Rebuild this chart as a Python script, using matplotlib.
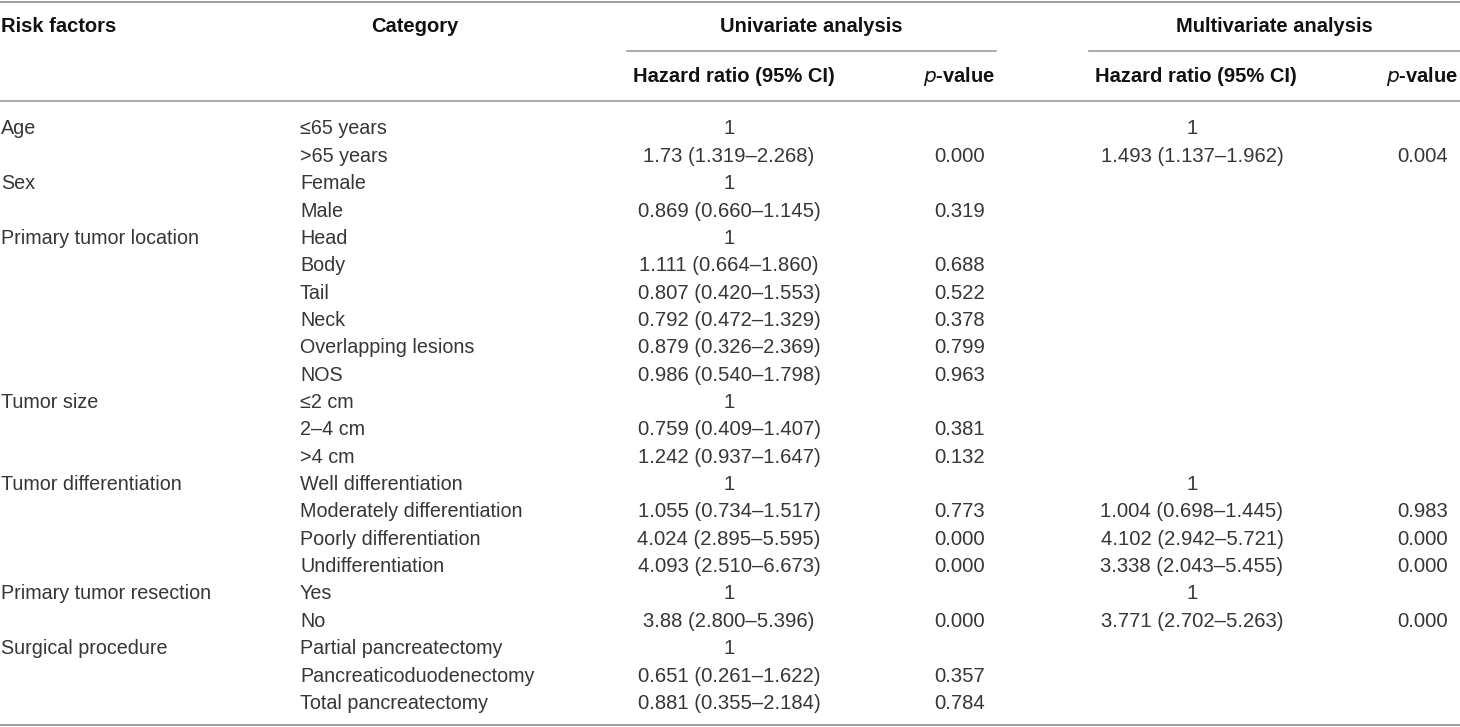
import matplotlib
matplotlib.use('Agg')
import matplotlib.pyplot as plt

# table content
RISK_FACTORS = ['Age', '', 'Sex', '', 'Primary tumor location', '', '', '', '', '',
                'Tumor size', '', '', 'Tumor differentiation', '', '', '',
                'Primary tumor resection', '', 'Surgical procedure', '', '']
CATEGORIES = ['≤65 years', '>65 years', 'Female', 'Male', 'Head', 'Body', 'Tail', 'Neck',
              'Overlapping lesions', 'NOS', '≤2 cm', '2–4 cm', '>4 cm',
              'Well differentiation', 'Moderately differentiation', 'Poorly differentiation',
              'Undifferentiation', 'Yes', 'No', 'Partial pancreatectomy',
              'Pancreaticoduodenectomy', 'Total pancreatectomy']
UNI_HR = ['1', '1.73 (1.319–2.268)', '1', '0.869 (0.660–1.145)', '1',
          '1.111 (0.664–1.860)', '0.807 (0.420–1.553)', '0.792 (0.472–1.329)',
          '0.879 (0.326–2.369)', '0.986 (0.540–1.798)', '1', '0.759 (0.409–1.407)',
          '1.242 (0.937–1.647)', '1', '1.055 (0.734–1.517)', '4.024 (2.895–5.595)',
          '4.093 (2.510–6.673)', '1', '3.88 (2.800–5.396)', '1',
          '0.651 (0.261–1.622)', '0.881 (0.355–2.184)']
UNI_P = ['', '0.000', '', '0.319', '', '0.688', '0.522', '0.378', '0.799', '0.963',
         '', '0.381', '0.132', '', '0.773', '0.000', '0.000', '', '0.000', '',
         '0.357', '0.784']
MULTI_HR = ['1', '1.493 (1.137–1.962)', '', '', '', '', '', '', '', '', '', '', '',
            '1', '1.004 (0.698–1.445)', '4.102 (2.942–5.721)', '3.338 (2.043–5.455)',
            '1', '3.771 (2.702–5.263)', '', '', '']
MULTI_P = ['', '0.004', '', '', '', '', '', '', '', '', '', '', '', '',
           '0.983', '0.000', '0.000', '', '0.000', '', '', '']

W, H = 1460, 727
plt.rcParams['font.family'] = ['Liberation Sans', 'DejaVu Sans']
FS_HEAD = 14.5
FS_TEXT = 14.2
FS_NUM = 14.6
TXT = '#363636'
LINE = '#9c9c9c'

fig = plt.figure(figsize=(W / 100, H / 100), dpi=100)
ax = fig.add_axes([0, 0, 1, 1])
ax.set_xlim(0, W)
ax.set_ylim(H, 0)
ax.axis('off')

# column anchors (pixels)
X_RISK, X_CAT = 1, 300
X_UHR, X_UP, X_MHR, X_MP = 729, 960, 1192, 1423

# rules
ax.plot([0, W], [1.5, 1.5], color=LINE, lw=1.4)
ax.plot([627, 996], [50.5, 50.5], color=LINE, lw=1.2)
ax.plot([1089, W], [50.5, 50.5], color=LINE, lw=1.2)
ax.plot([0, W], [100.5, 100.5], color=LINE, lw=1.2)
ax.plot([0, W], [724.5, 724.5], color=LINE, lw=1.4)

# headers
hk = dict(fontsize=FS_HEAD, fontweight='bold', color='#111111', va='center')
ax.text(X_RISK, 27, 'Risk factors', ha='left', **hk)
ax.text(415, 27, 'Category', ha='center', **hk)
ax.text(811, 27, 'Univariate analysis', ha='center', **hk)
ax.text(1274, 27, 'Multivariate analysis', ha='center', **hk)
ax.text(734, 77, 'Hazard ratio (95% CI)', ha='center', **hk)
ax.text(1196, 77, 'Hazard ratio (95% CI)', ha='center', **hk)
for xp in (995, 1458):
    ax.text(xp, 77, r'$\bf\it{p}$' + '-value', ha='right', **hk)

# body rows
y0, dy = 129, 27.35
tk = dict(fontsize=FS_TEXT, color=TXT, va='center')
nk = dict(fontsize=FS_NUM, color=TXT, va='center', ha='center')
for i in range(len(CATEGORIES)):
    y = y0 + i * dy
    ax.text(X_RISK, y, RISK_FACTORS[i], ha='left', **tk)
    ax.text(X_CAT, y, CATEGORIES[i], ha='left', **tk)
    ax.text(X_UHR, y, UNI_HR[i], **nk)
    ax.text(X_UP, y, UNI_P[i], **nk)
    ax.text(X_MHR, y, MULTI_HR[i], **nk)
    ax.text(X_MP, y, MULTI_P[i], **nk)

fig.savefig('out.png', dpi=100)
